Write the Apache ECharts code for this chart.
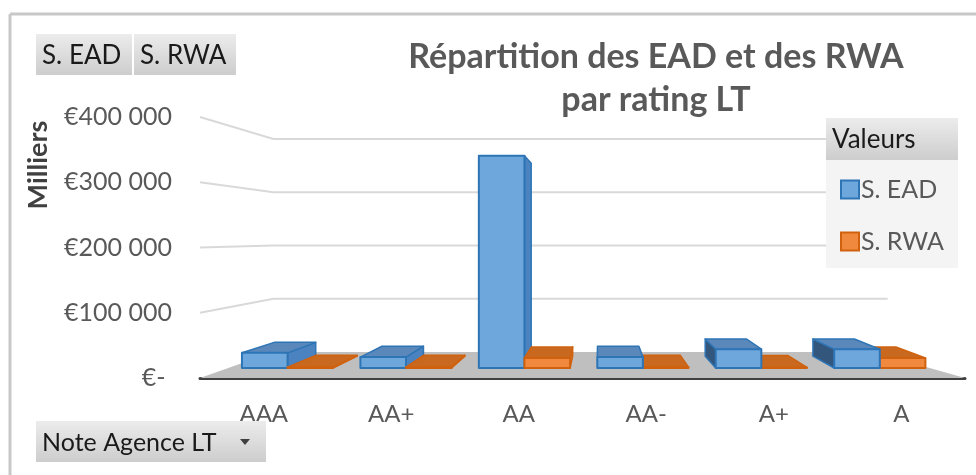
<!DOCTYPE html>
<html>
<head>
<meta charset="utf-8">
<script src="https://cdn.jsdelivr.net/npm/echarts@6/dist/echarts.min.js"></script>
<style>html,body{margin:0;padding:0;background:#fff;}#c{width:976px;height:475px;}</style>
</head>
<body>
<div id="c"></div>
<script>
// ---- data ----
const categories = ['AAA', 'AA+', 'AA', 'AA-', 'A+', 'A'];
const eadValues = [25000, 18000, 350000, 18000, 31000, 31000];
const rwaValues = [1500, 1500, 16500, 1500, 1000, 16500];
const yTicks = [0, 100000, 200000, 300000, 400000];
const seriesNames = ['S. EAD', 'S. RWA'];
const titleLines = ['Répartition des EAD et des RWA', 'par rating LT'];

// ---- perspective styling ----
const VP = [599, 237];      // vanishing point
const WALL_D = 0.184;       // back wall depth
const WALL_RIGHT_TRIM = 10; // back wall ends a bit short on the right
const BOX_D0 = 0.071, BOX_D1 = 0.155;
const BAR_FRAC = 0.385;
const FONT = 'Lato';

function P(x, y, d) { return [x + (VP[0] - x) * d, y + (VP[1] - y) * d]; }

const palettes = [
  { front: '#6ea7dc', top: '#5b88bb', sideL: '#33567c', sideR: '#4a83c0', stroke: '#2e75b6' },
  { front: '#f0893e', top: '#c9691f', sideL: '#a8561a', sideR: '#d8752e', stroke: '#d0620f' }
];

function makeBox(side) {
  const pal = palettes[side];
  return function (params, api) {
    const idx = api.value(0), v = api.value(1);
    const top = api.coord([idx, v]);
    const base = api.coord([idx, 0]);
    const bw = api.size([1, 0])[0];
    const w = bw * BAR_FRAC;
    const xl = side === 0 ? top[0] - w : top[0];
    const xr = xl + w;
    const yt = top[1], yb = base[1];
    const mid = (xl + xr) / 2;
    const zb = (1000 - Math.round(Math.abs(mid - VP[0]))) * 3;
    const ch = [];
    const poly = (pts, fill, k, lw) => ({
      type: 'polygon', z2: zb + k,
      shape: { points: pts },
      style: { fill: fill, stroke: pal.stroke, lineWidth: lw, lineJoin: 'round' }
    });
    if (xl > VP[0]) {
      ch.push(poly([P(xl, yb, BOX_D0), P(xl, yt, BOX_D0), P(xl, yt, BOX_D1), P(xl, yb, BOX_D1)], pal.sideL, 0, 1.5));
    }
    if (xr < VP[0]) {
      ch.push(poly([P(xr, yb, BOX_D0), P(xr, yt, BOX_D0), P(xr, yt, BOX_D1), P(xr, yb, BOX_D1)], pal.sideR, 0, 1.5));
    }
    if (yt > VP[1]) {
      ch.push(poly([P(xl, yt, BOX_D0), P(xr, yt, BOX_D0), P(xr, yt, BOX_D1), P(xl, yt, BOX_D1)], pal.top, 1, 1.5));
    }
    ch.push(poly([P(xl, yb, BOX_D0), P(xr, yb, BOX_D0), P(xr, yt, BOX_D0), P(xl, yt, BOX_D0)], pal.front, 2, 2));
    return { type: 'group', children: ch };
  };
}

function renderDecor(params, api) {
  const v = api.value(1);
  const cs = params.coordSys;
  const left = cs.x, right = cs.x + cs.width;
  const y = api.coord([0, v])[1];
  if (v === 0) {
    return {
      type: 'polygon', z2: 0,
      shape: { points: [P(left, y, 0), P(right, y, 0), P(right - WALL_RIGHT_TRIM * 3, y, WALL_D), P(left, y, WALL_D)] },
      style: { fill: '#bfbfbf' }
    };
  }
  const br = P(right, y, WALL_D);
  return {
    type: 'polyline', z2: 1,
    shape: { points: [[left, y], P(left, y, WALL_D), [br[0] - WALL_RIGHT_TRIM, br[1]]] },
    style: { stroke: '#d9d9d9', lineWidth: 2, fill: null }
  };
}

function fmt(v) {
  if (v === 0) return '€- ';
  return '€' + String(v).replace(/\B(?=(\d{3})+(?!\d))/g, ' ');
}

const grad = { type: 'linear', x: 0, y: 0, x2: 0, y2: 1,
  colorStops: [{ offset: 0, color: '#ececec' }, { offset: 1, color: '#cdcdcd' }] };

function button(x, y, w, h, text, fs) {
  return [
    { type: 'rect', z: 15, shape: { x: x, y: y, width: w, height: h }, style: { fill: grad } },
    { type: 'text', z: 16, x: x + 6, y: y + h / 2 + 1, style: { text: text, fill: '#1a1a1a', font: fs + 'px ' + FONT, textVerticalAlign: 'middle' } }
  ];
}

const chart = echarts.init(document.getElementById('c'), null, { renderer: 'canvas' });
chart.setOption({
  animation: false,
  backgroundColor: '#ffffff',
  grid: { left: 200, right: 11, top: 117, bottom: 97, containLabel: false },
  xAxis: {
    type: 'category', data: categories,
    axisLine: { show: true, lineStyle: { color: '#404040', width: 3 } },
    axisTick: { show: false },
    axisLabel: { color: '#595959', fontSize: 24, fontFamily: FONT, margin: 24 },
    splitLine: { show: false }
  },
  yAxis: {
    type: 'value', min: 0, max: 400000, interval: 100000,
    axisLine: { show: false }, axisTick: { show: false },
    splitLine: { show: false },
    axisLabel: { color: '#595959', fontSize: 25, fontFamily: FONT, margin: 28, formatter: fmt }
  },
  legend: {
    orient: 'vertical', left: 835, top: 172, z: 20,
    itemWidth: 18, itemHeight: 18, itemGap: 27,
    textStyle: { color: '#595959', fontSize: 25, fontFamily: FONT, lineHeight: 25, padding: [0, 0, 0, -3] },
    data: [
      { name: seriesNames[0], icon: 'rect', itemStyle: { color: palettes[0].front, borderColor: palettes[0].stroke, borderWidth: 2 } },
      { name: seriesNames[1], icon: 'rect', itemStyle: { color: palettes[1].front, borderColor: palettes[1].stroke, borderWidth: 2 } }
    ]
  },
  graphic: [
    { type: 'line', z: 20, shape: { x1: 10, y1: 14, x2: 976, y2: 14 }, style: { stroke: '#c8c8c8', lineWidth: 3 } },
    { type: 'line', z: 20, shape: { x1: 10, y1: 14, x2: 10, y2: 475 }, style: { stroke: '#c8c8c8', lineWidth: 3 } },
    ...button(36, 34, 96, 41, 'S. EAD', 26),
    ...button(134, 34, 102, 41, 'S. RWA', 26),
    ...button(36, 421, 230, 41, 'Note Agence LT', 25),
    { type: 'polygon', z: 16, shape: { points: [[240, 439], [250, 439], [245, 445]] }, style: { fill: '#404040' } },
    { type: 'rect', z: 15, shape: { x: 826, y: 160, width: 132, height: 108 }, style: { fill: '#f4f4f4' } },
    ...button(826, 118, 132, 42, 'Valeurs', 26),
    { type: 'text', z: 16, x: 656, y: 57, style: { text: titleLines[0], textAlign: 'center', textVerticalAlign: 'middle', fill: '#595959', font: 'bold 34px ' + FONT } },
    { type: 'text', z: 16, x: 656, y: 100, style: { text: titleLines[1], textAlign: 'center', textVerticalAlign: 'middle', fill: '#595959', font: 'bold 34px ' + FONT } },
    { type: 'text', z: 16, x: 38, y: 165, rotation: Math.PI / 2, style: { text: 'Milliers', textAlign: 'center', textVerticalAlign: 'middle', fill: '#404040', font: 'bold 27px ' + FONT } }
  ],
  series: [
    { type: 'custom', name: 'decor', z: 1, silent: true, renderItem: renderDecor,
      data: yTicks.map(v => [0, v]) },
    { type: 'custom', name: seriesNames[0], z: 2, renderItem: makeBox(0),
      itemStyle: { color: palettes[0].front },
      data: eadValues.map((v, i) => [i, v]) },
    { type: 'custom', name: seriesNames[1], z: 2, renderItem: makeBox(1),
      itemStyle: { color: palettes[1].front },
      data: rwaValues.map((v, i) => [i, v]) }
  ]
});
</script>
</body>
</html>
